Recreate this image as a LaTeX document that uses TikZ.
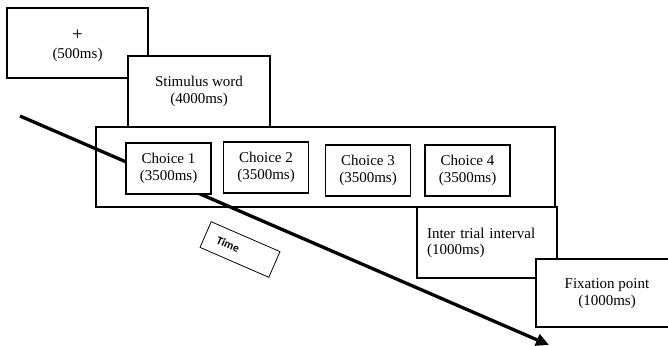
\documentclass[tikz,border=0pt]{standalone}
\usepackage{fontspec}
\setmainfont{Liberation Serif}
\newfontfamily\timefont{Carlito}
\usetikzlibrary{arrows.meta}
\begin{document}
\begin{tikzpicture}[x=1pt,y=-1pt,
  box/.style={draw,fill=white,rectangle,inner sep=0pt,align=center,
    font=\fontsize{15}{16.5}\selectfont},
  choicebox/.style={box,line width=1.8pt,minimum width=85pt,minimum height=51pt},
  arrowline/.style={line width=3.3pt,-{Triangle[length=13pt,width=12pt]}}
]
\useasboundingbox (0,0) rectangle (668,345);
\begin{scope}
\clip (0,0) rectangle (668,345);
% fixation cross
\node[box,line width=1.2pt,minimum width=141pt,minimum height=70pt] (fix) at (77.5,43) {};
\node[align=center,inner sep=0pt,font=\fontsize{15}{18}\selectfont] (fixt) at (77.5,46) {{\fontsize{19}{18}\selectfont +}\\(500ms)};
% stimulus word
\node[box,line width=1.4pt,minimum width=142pt,minimum height=71pt] (stim) at (199,91.5) {Stimulus word\\(4000ms)};
% outer choice frame
\node[draw,rectangle,line width=2.8pt,minimum width=459pt,minimum height=80pt,inner sep=0pt] (frame) at (325.5,167) {};
% time arrow
\coordinate (ts) at (20,116);
\coordinate (te) at (549,345);
\draw[arrowline] (ts) -- (te);
% choices
\node[choicebox] (c1) at (168.5,168.5) {Choice 1\\(3500ms)};
\node[choicebox] (c2) at (266,167.5) {Choice 2\\(3500ms)};
\node[choicebox] (c3) at (368,170.5) {Choice 3\\(3500ms)};
\node[choicebox] (c4) at (467.5,170.5) {Choice 4\\(3500ms)};
% inter trial interval
\node[box,line width=1.8pt,minimum width=140pt,minimum height=71pt,align=left,text width=120pt] (iti) at (487,242.5) {\strut Inter trial interval\\(1000ms)};
% fixation point
\node[box,line width=2.2pt,minimum width=142pt,minimum height=68pt] (fp) at (607,293) {\strut Fixation point\\(1000ms)};
% time label
\node[draw,rectangle,line width=0.8pt,rotate=-23.5,minimum width=75pt,minimum height=28pt,inner sep=0pt,font=\timefont\bfseries\fontsize{11.5}{12}\selectfont] (tbox) at (240,249.5) {Time\hspace*{26pt}};
\end{scope}
\end{tikzpicture}
\end{document}
